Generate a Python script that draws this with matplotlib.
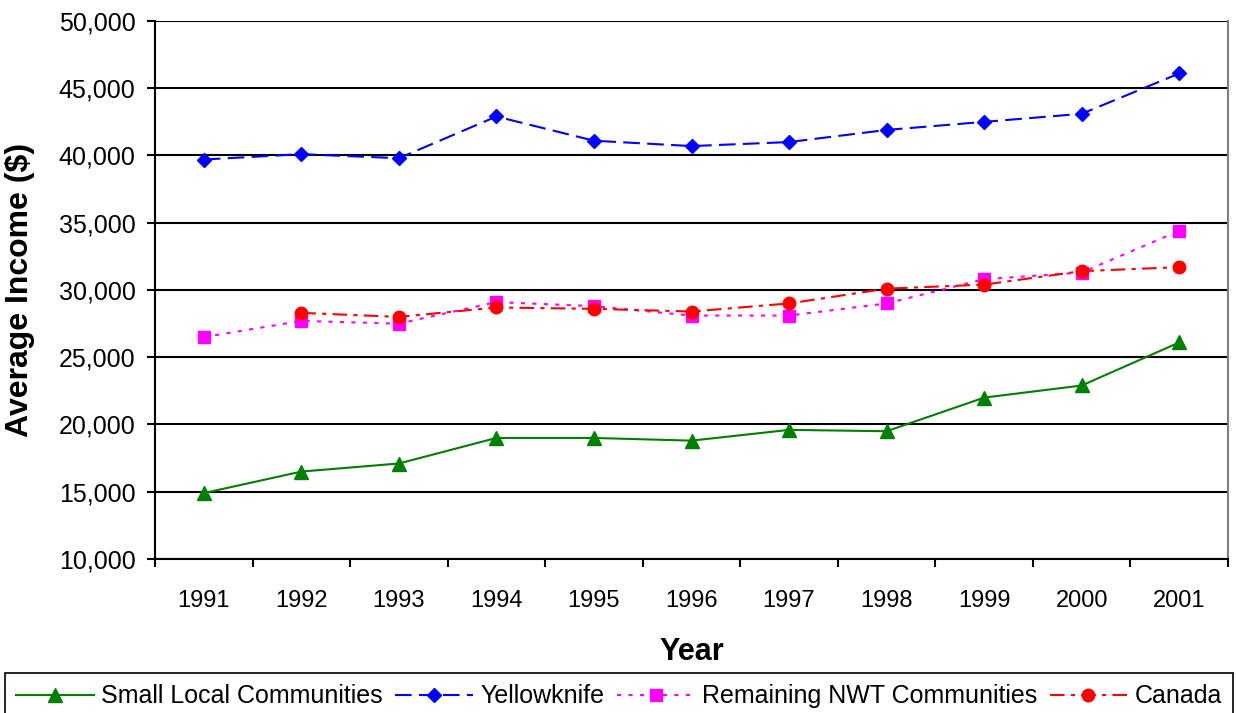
import matplotlib
matplotlib.use("Agg")
import matplotlib.pyplot as plt
from matplotlib.ticker import FuncFormatter, MultipleLocator, FixedLocator

plt.rcParams['font.family'] = ['Liberation Sans', 'DejaVu Sans']

# data
years = ['1991', '1992', '1993', '1994', '1995', '1996',
         '1997', '1998', '1999', '2000', '2001']
small_local = [14900, 16500, 17100, 19000, 19000, 18800,
               19600, 19500, 22000, 22900, 26100]
yellowknife = [39700, 40100, 39800, 42900, 41100, 40700,
               41000, 41900, 42500, 43100, 46100]
remaining_nwt = [26500, 27700, 27500, 29100, 28800, 28100,
                 28100, 29000, 30800, 31300, 34400]
canada = [None, 28300, 28000, 28700, 28600, 28400,
          29000, 30100, 30400, 31400, 31700]

fig = plt.figure(figsize=(12.36, 7.13), dpi=100)
ax = fig.add_axes([155/1236, 1 - 559/713, 1073/1236, 538/713])

x = list(range(len(years)))
ax.plot(x, small_local, color='#008000', lw=1.5, marker='^', markersize=10,
        label='Small Local Communities')
ax.plot(x, yellowknife, color='#0000FF', lw=1.5, dashes=(8, 3.5), marker='D',
        markersize=7.5, label='Yellowknife')
ax.plot(x, remaining_nwt, color='#FF00FF', lw=1.5, dashes=(2, 3.5), marker='s',
        markersize=8, label='Remaining NWT Communities')
cx = [i for i, v in zip(x, canada) if v is not None]
cy = [v for v in canada if v is not None]
ax.plot(cx, cy, color='#FF0000', lw=1.5, dashes=(7, 3, 2, 3), marker='o',
        markersize=9, label='Canada')

ax.set_xlim(-0.5, len(years) - 0.5)
ax.set_ylim(10000, 50000)

# y axis
ax.yaxis.set_major_locator(MultipleLocator(5000))
ax.yaxis.set_major_formatter(FuncFormatter(lambda v, p: '{:,.0f}'.format(v)))
ax.grid(axis='y', color='black', lw=1.5)
ax.tick_params(axis='y', direction='out', length=6, width=1.5, pad=8, labelsize=18)

# x axis: ticks between categories, labels in the middle
ax.xaxis.set_major_locator(FixedLocator([i - 0.5 for i in range(len(years) + 1)]))
ax.xaxis.set_major_formatter(FuncFormatter(lambda v, p: ''))
ax.xaxis.set_minor_locator(FixedLocator(x))
ax.set_xticklabels(years, minor=True)
ax.tick_params(axis='x', which='major', direction='out', length=6, width=1.5)
ax.tick_params(axis='x', which='minor', length=0, pad=22, labelsize=17)

for s in ['left', 'bottom']:
    ax.spines[s].set_linewidth(1.5)
    ax.spines[s].set_color('black')
ax.spines['top'].set_visible(False)
ax.spines['right'].set_color('#808080')
ax.spines['right'].set_linewidth(1.5)

ax.set_ylabel('Average Income ($)', fontsize=23, fontweight='bold')
ax.yaxis.set_label_coords(-0.112, 0.5)
ax.set_xlabel('Year', fontsize=22, fontweight='bold')
ax.xaxis.set_label_coords(0.5, -0.145)

leg = fig.legend(loc='upper left', bbox_to_anchor=(5/1236, 1 - 673/713), ncol=4,
                 fontsize=18, handlelength=3.1, handletextpad=0.3,
                 columnspacing=0.5, borderpad=0.45, borderaxespad=0,
                 fancybox=False, framealpha=1, edgecolor='black')
leg.get_frame().set_linewidth(1.2)

fig.savefig('out.png', dpi=100)
